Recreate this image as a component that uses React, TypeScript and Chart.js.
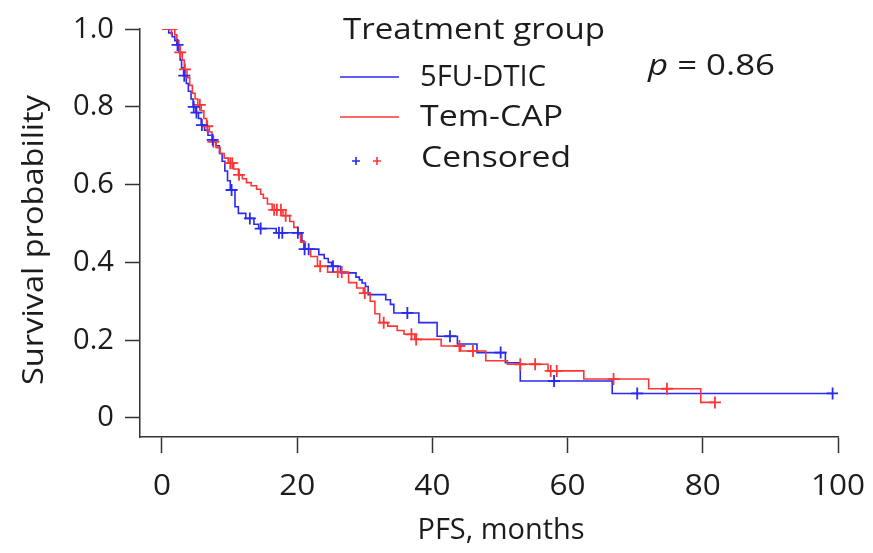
import React, { useEffect, useRef } from 'react';
import { Chart, registerables } from 'chart.js';

Chart.register(...registerables);

// Axis ticks
const xTicks = [0, 20, 40, 60, 80, 100];
const yTicks = [0, 0.2, 0.4, 0.6, 0.8, 1.0];

// 5FU-DTIC: event times (months) and Kaplan-Meier survival after each event
const dticTimes = [
  0, 1.0, 1.5, 1.9, 2.2, 2.5, 2.7, 2.9, 3.2, 3.6,
  3.9, 4.3, 4.6, 5.0, 5.4, 5.8, 6.3, 6.8, 7.4, 8.0,
  8.5, 8.9, 9.3, 9.7, 10.1, 10.8, 11.3, 12.4, 13.6, 14.3,
  16.9, 20.7, 21.0, 23.2, 24.0, 24.6, 25.1, 26.4, 28.7, 29.2,
  29.6, 30.1, 30.5, 33.1, 33.8, 34.3, 38.0, 40.7, 43.7, 46.6,
  50.8, 53.0, 66.6,
];
const dticSurv = [
  1.0, 0.99, 0.98, 0.97, 0.959, 0.94, 0.92, 0.9, 0.88, 0.86,
  0.84, 0.82, 0.8, 0.785, 0.77, 0.753, 0.74, 0.727, 0.715, 0.7,
  0.68, 0.66, 0.635, 0.61, 0.586, 0.543, 0.526, 0.513, 0.498, 0.487,
  0.476, 0.455, 0.434, 0.42, 0.41, 0.4, 0.39, 0.373, 0.362, 0.355,
  0.347, 0.338, 0.317, 0.304, 0.292, 0.27, 0.245, 0.21, 0.19, 0.168,
  0.142, 0.095, 0.063,
];
const dticCensored = [
  2.3, 3.3, 4.7, 5.1, 5.9, 7.5, 10.3, 13.0, 14.6, 17.3, 17.8, 20.1,
  21.1, 21.7, 25.3, 36.3, 42.6, 50.1, 58.0, 70.3, 99.2,
];

// Tem-CAP: event times (months) and Kaplan-Meier survival after each event
const temcapTimes = [
  0, 1.9, 2.2, 2.5, 2.7, 3.0, 3.3, 3.7, 4.1, 4.5,
  4.9, 5.3, 5.8, 6.2, 6.6, 7.0, 7.4, 8.0, 8.6, 9.2,
  9.8, 10.6, 11.3, 11.9, 12.5, 13.2, 14.0, 14.6, 15.0, 15.6,
  16.3, 17.9, 18.9, 19.5, 20.1, 20.5, 21.2, 22.0, 23.0, 24.5,
  27.6, 28.8, 29.8, 30.8, 31.5, 32.2, 33.4, 34.8, 35.8, 37.4,
  41.3, 44.2, 47.9, 51.1, 57.1, 62.4, 72.0, 79.7,
];
const temcapSurv = [
  1.0, 0.985, 0.97, 0.955, 0.94, 0.92, 0.896, 0.875, 0.855, 0.835,
  0.82, 0.805, 0.79, 0.77, 0.75, 0.735, 0.71, 0.695, 0.68, 0.668,
  0.655, 0.64, 0.625, 0.615, 0.605, 0.597, 0.588, 0.575, 0.565, 0.55,
  0.535, 0.52, 0.505, 0.49, 0.472, 0.452, 0.434, 0.415, 0.39, 0.375,
  0.348, 0.334, 0.321, 0.3, 0.268, 0.245, 0.236, 0.225, 0.215, 0.202,
  0.185, 0.172, 0.147, 0.138, 0.121, 0.1, 0.075, 0.04,
];
const temcapCensored = [
  1.4, 2.7, 3.4, 5.6, 6.7, 7.6, 10.1, 10.4, 11.4, 16.6, 17.0, 17.6,
  18.3, 23.4, 26.0, 26.6, 30.0, 32.8, 36.9, 37.6, 44.0, 46.0, 53.0,
  55.2, 57.5, 58.4, 66.8, 74.7, 81.8,
];

const BLUE = '#2a2af0';
const RED = '#ff3636';
const TEXT = '#1c1c1c';
const AXIS = '#333333';
const FONT = '"Open Sans", "Noto Sans", sans-serif';
const FONT_SIZE = 30;

// Survival value of a step curve at time t
function survivalAt(times: number[], surv: number[], t: number): number {
  let v = surv[0];
  for (let i = 0; i < times.length; i++) {
    if (times[i] <= t) v = surv[i];
    else break;
  }
  return v;
}

function stepPoints(times: number[], surv: number[], censored: number[]) {
  const pts = times.map((t, i) => ({ x: t, y: surv[i] }));
  const lastT = Math.max(times[times.length - 1], censored[censored.length - 1]);
  pts.push({ x: lastT, y: surv[surv.length - 1] });
  return pts;
}

function censorPoints(times: number[], surv: number[], censored: number[]) {
  return censored.map((t) => ({ x: t, y: survivalAt(times, surv, t) }));
}

type Part = { text: string; italic?: boolean };

// Draws a run of text, stretched horizontally to a given width (or by a factor)
function drawText(
  ctx: CanvasRenderingContext2D,
  parts: Part[],
  x: number,
  y: number,
  opts: { width?: number; scale?: number; align?: 'left' | 'right' | 'center'; rotate?: boolean },
) {
  const fontOf = (p: Part) => `${p.italic ? 'italic ' : ''}${FONT_SIZE}px ${FONT}`;
  const widths = parts.map((p) => {
    ctx.font = fontOf(p);
    return ctx.measureText(p.text).width;
  });
  const natural = widths.reduce((a, b) => a + b, 0);
  const sx = opts.width ? opts.width / natural : opts.scale ?? 1;
  const total = natural * sx;
  const align = opts.align ?? 'left';
  const start = align === 'left' ? 0 : align === 'right' ? -total : -total / 2;
  ctx.save();
  ctx.translate(x, y);
  if (opts.rotate) ctx.rotate(-Math.PI / 2);
  ctx.translate(start, 0);
  ctx.scale(sx, 1);
  ctx.fillStyle = TEXT;
  ctx.textAlign = 'left';
  ctx.textBaseline = 'middle';
  let cx = 0;
  parts.forEach((p, i) => {
    ctx.font = fontOf(p);
    ctx.fillText(p.text, cx, 0);
    cx += widths[i];
  });
  ctx.restore();
}

const textPlugin = {
  id: 'kmText',
  afterDraw(chart: any) {
    const ctx = chart.ctx as CanvasRenderingContext2D;
    const xs = chart.scales.x;
    const ys = chart.scales.y;

    // tick labels
    xTicks.forEach((v) => {
      drawText(ctx, [{ text: String(v) }], xs.getPixelForValue(v), 486, { scale: 1.05, align: 'center' });
    });
    yTicks.forEach((v) => {
      const label = v === 0 ? '0' : v.toFixed(1);
      drawText(ctx, [{ text: label }], 114, ys.getPixelForValue(v), { scale: 0.97, align: 'right' });
    });

    // axis titles
    drawText(ctx, [{ text: 'PFS, months' }], 501, 530, { width: 167, align: 'center' });
    drawText(ctx, [{ text: 'Survival probability' }], 34, 240, { width: 290, align: 'center', rotate: true });

    // legend
    drawText(ctx, [{ text: 'Treatment group' }], 343, 30, { width: 262 });

    ctx.save();
    ctx.lineWidth = 1.6;
    ctx.strokeStyle = BLUE;
    ctx.beginPath();
    ctx.moveTo(340, 77);
    ctx.lineTo(399, 77);
    ctx.stroke();
    ctx.strokeStyle = RED;
    ctx.beginPath();
    ctx.moveTo(340, 117);
    ctx.lineTo(399, 117);
    ctx.stroke();
    const plus = (cx: number, cy: number, color: string) => {
      ctx.strokeStyle = color;
      ctx.beginPath();
      ctx.moveTo(cx - 4, cy);
      ctx.lineTo(cx + 4, cy);
      ctx.moveTo(cx, cy - 4);
      ctx.lineTo(cx, cy + 4);
      ctx.stroke();
    };
    plus(356, 161, BLUE);
    plus(377, 161, RED);
    ctx.restore();

    drawText(ctx, [{ text: '5FU-DTIC' }], 420, 77, { width: 126 });
    drawText(ctx, [{ text: 'Tem-CAP' }], 420, 117, { width: 143 });
    drawText(ctx, [{ text: 'Censored' }], 421, 158, { width: 150 });
    drawText(ctx, [{ text: 'p', italic: true }, { text: ' = 0.86' }], 648, 66, { width: 127 });
  },
};

export default function App() {
  const canvasRef = useRef<HTMLCanvasElement | null>(null);

  useEffect(() => {
    const canvas = canvasRef.current;
    if (!canvas) return;
    const chart = new Chart(canvas, {
      type: 'line',
      data: {
        datasets: [
          {
            label: '5FU-DTIC censored',
            type: 'scatter',
            data: censorPoints(dticTimes, dticSurv, dticCensored),
            pointStyle: 'cross',
            pointRadius: 6,
            pointBorderWidth: 1.8,
            borderColor: BLUE,
            backgroundColor: BLUE,
            showLine: false,
            order: 0,
          },
          {
            label: 'Tem-CAP censored',
            type: 'scatter',
            data: censorPoints(temcapTimes, temcapSurv, temcapCensored),
            pointStyle: 'cross',
            pointRadius: 6,
            pointBorderWidth: 1.8,
            borderColor: RED,
            backgroundColor: RED,
            showLine: false,
            order: 0,
          },
          {
            label: 'Tem-CAP',
            data: stepPoints(temcapTimes, temcapSurv, temcapCensored),
            stepped: 'before',
            borderColor: RED,
            borderWidth: 1.6,
            pointRadius: 0,
            fill: false,
            order: 1,
          },
          {
            label: '5FU-DTIC',
            data: stepPoints(dticTimes, dticSurv, dticCensored),
            stepped: 'before',
            borderColor: BLUE,
            borderWidth: 1.6,
            pointRadius: 0,
            fill: false,
            order: 2,
          },
        ],
      },
      options: {
        responsive: false,
        maintainAspectRatio: false,
        animation: false,
        layout: { padding: { left: 0, right: 35, top: 29, bottom: 0 } },
        plugins: { legend: { display: false }, tooltip: { enabled: false } },
        scales: {
          x: {
            type: 'linear',
            min: -3.25,
            max: 100,
            afterBuildTicks: (s: any) => {
              s.ticks = xTicks.map((v) => ({ value: v }));
            },
            afterFit: (s: any) => {
              s.height = 116;
            },
            grid: {
              drawOnChartArea: false,
              drawTicks: true,
              tickLength: 16,
              tickColor: AXIS,
              tickWidth: 1.5,
              color: AXIS,
            },
            border: { display: true, color: AXIS, width: 1.5 },
            ticks: { display: false, autoSkip: false },
            title: { display: false },
          },
          y: {
            type: 'linear',
            min: -0.049,
            max: 1.0,
            afterBuildTicks: (s: any) => {
              s.ticks = yTicks.map((v) => ({ value: v }));
            },
            afterFit: (s: any) => {
              s.width = 140;
            },
            grid: {
              drawOnChartArea: false,
              drawTicks: true,
              tickLength: 15,
              tickColor: AXIS,
              tickWidth: 1.5,
              color: AXIS,
            },
            border: { display: true, color: AXIS, width: 1.5 },
            ticks: { display: false, autoSkip: false },
            title: { display: false },
          },
        },
      },
      plugins: [textPlugin],
    });
    return () => chart.destroy();
  }, []);

  return (
    <div style={{ position: 'fixed', left: 0, top: 0, width: 873, height: 553, background: '#fff' }}>
      <canvas ref={canvasRef} width={873} height={553} style={{ display: 'block', width: 873, height: 553 }} />
    </div>
  );
}
